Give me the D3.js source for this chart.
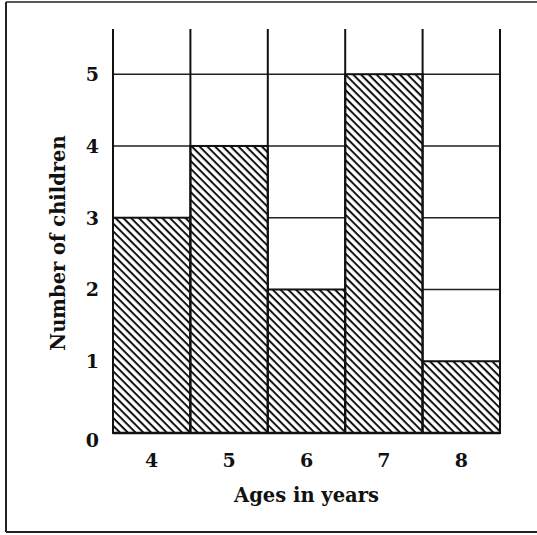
<!DOCTYPE html>
<html>
<head>
<meta charset="utf-8">
<script src="https://cdn.jsdelivr.net/npm/d3@7"></script>
<style>
  html, body { margin: 0; padding: 0; background: #fff; }
  svg { display: block; }
  .tick text { font-family: "DejaVu Serif", serif; font-weight: bold; font-size: 19px; fill: #111; }
  .title { font-family: "DejaVu Serif", serif; font-weight: bold; font-size: 19.5px; fill: #111; }
</style>
</head>
<body>
<svg id="chart" width="537" height="535"></svg>
<script>
// Ages (categories) and number of children for each age
const ages = ["4", "5", "6", "7", "8"];
const children = [3, 4, 2, 5, 1];
const countTicks = [0, 1, 2, 3, 4, 5];
const yMax = 5.63;

const svg = d3.select("#chart");
const W = 537, H = 535;
const plot = { left: 113, right: 500, top: 29, bottom: 433 };

// Page frame (open on the right side)
const frame = svg.append("g").attr("stroke", "#222").attr("fill", "none");
frame.append("line").attr("x1", 6).attr("y1", 2).attr("x2", W).attr("y2", 2).attr("stroke-width", 1.5);
frame.append("line").attr("x1", 6).attr("y1", 2).attr("x2", 6).attr("y2", 532).attr("stroke-width", 2);
frame.append("line").attr("x1", 6).attr("y1", 532).attr("x2", W).attr("y2", 532).attr("stroke-width", 2);

// Diagonal hatch pattern for the bars
const defs = svg.append("defs");
const hatch = defs.append("pattern")
  .attr("id", "hatch")
  .attr("patternUnits", "userSpaceOnUse")
  .attr("width", 5.5).attr("height", 5.5)
  .attr("patternTransform", "rotate(45)");
hatch.append("rect").attr("width", 5.5).attr("height", 5.5).attr("fill", "#fff");
hatch.append("rect").attr("width", 5.5).attr("height", 2).attr("fill", "#111");

const x = d3.scaleBand().domain(ages).range([plot.left, plot.right]).padding(0);
const y = d3.scaleLinear().domain([0, yMax]).range([plot.bottom, plot.top]);

// Horizontal grid lines, visible only above each bar
const gridData = [];
ages.forEach((a, i) => {
  countTicks.forEach(t => {
    if (t > children[i]) gridData.push({ age: a, t });
  });
});
svg.append("g").selectAll("line").data(gridData).join("line")
  .attr("x1", d => x(d.age)).attr("x2", d => x(d.age) + x.bandwidth())
  .attr("y1", d => y(d.t)).attr("y2", d => y(d.t))
  .attr("stroke", "#222").attr("stroke-width", 1.6);

// Bars
svg.append("g").selectAll("rect").data(ages).join("rect")
  .attr("x", d => x(d))
  .attr("y", (d, i) => y(children[i]))
  .attr("width", x.bandwidth())
  .attr("height", (d, i) => y(0) - y(children[i]))
  .attr("fill", "url(#hatch)")
  .attr("stroke", "#111").attr("stroke-width", 2);

// Vertical column boundaries running up to the top of the scale
const edges = ages.map(a => x(a)).concat([x(ages[ages.length - 1]) + x.bandwidth()]);
svg.append("g").selectAll("line").data(edges).join("line")
  .attr("x1", d => d).attr("x2", d => d)
  .attr("y1", y(yMax)).attr("y2", y(0))
  .attr("stroke", "#111").attr("stroke-width", 2);

// Baseline
svg.append("line")
  .attr("x1", plot.left).attr("x2", plot.right)
  .attr("y1", y(0)).attr("y2", y(0))
  .attr("stroke", "#111").attr("stroke-width", 2.5);

// Y axis labels
const yAxis = svg.append("g")
  .attr("transform", `translate(${plot.left},0)`)
  .call(d3.axisLeft(y).tickValues(countTicks).tickSize(0).tickPadding(14).tickFormat(d3.format("d")));
yAxis.select(".domain").remove();
yAxis.selectAll(".tick text").attr("dy", d => d === 0 ? "0.7em" : "0.34em");

// X axis labels
const xAxis = svg.append("g")
  .attr("transform", `translate(0,${plot.bottom})`)
  .call(d3.axisBottom(x).tickSize(0).tickPadding(21));
xAxis.select(".domain").remove();

// Axis titles
svg.append("text").attr("class", "title")
  .attr("x", (plot.left + plot.right) / 2).attr("y", 502)
  .attr("text-anchor", "middle")
  .text("Ages in years");

svg.append("text").attr("class", "title")
  .attr("transform", "translate(65,243) rotate(-90)")
  .attr("text-anchor", "middle")
  .text("Number of children");
</script>
</body>
</html>
